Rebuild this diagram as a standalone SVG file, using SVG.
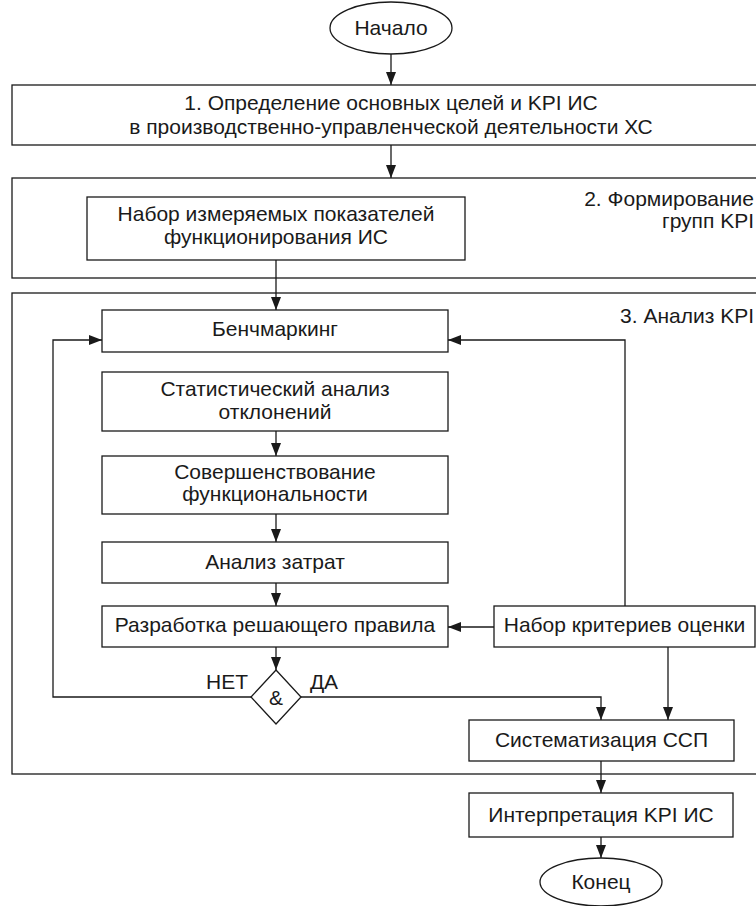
<svg xmlns="http://www.w3.org/2000/svg" width="756" height="906" viewBox="0 0 756 906">
<defs>
<marker id="ah" viewBox="0 0 13 10" refX="13" refY="5" markerWidth="13" markerHeight="10" markerUnits="userSpaceOnUse" orient="auto">
<path d="M0,0 L13,5 L0,10 z" fill="#1a1a1a"/>
</marker>
<style>
.b{fill:#fff;stroke:#1a1a1a;stroke-width:1.3}
.g{fill:none;stroke:#1a1a1a;stroke-width:1.3}
.t{font-family:"Liberation Sans",Arial,sans-serif;font-size:21px;fill:#1a1a1a;text-anchor:middle}
.r{text-anchor:end}
.c{fill:none;stroke:#1a1a1a;stroke-width:1.3}
.a{marker-end:url(#ah)}
</style>
</defs>
<rect width="756" height="906" fill="#fff"/>

<g id="group2"><rect class="g" x="12" y="178" width="760" height="100"/>
<text class="t r" x="754" y="206">2. Формирование</text>
<text class="t r" x="754" y="228">групп KPI</text></g>
<g id="group3"><rect class="g" x="12" y="293" width="760" height="481"/>
<text class="t r" x="754" y="323">3. Анализ KPI</text></g>

<g id="connectors">
<line class="c a" x1="391" y1="54" x2="391" y2="85"/>
<line class="c a" x1="391" y1="145" x2="391" y2="178"/>
<line class="c a" x1="276" y1="260" x2="276" y2="310"/>
<line class="c a" x1="276" y1="431" x2="276" y2="456"/>
<line class="c a" x1="276" y1="514" x2="276" y2="542"/>
<line class="c a" x1="276" y1="583" x2="276" y2="606"/>
<line class="c a" x1="494" y1="627" x2="448" y2="627"/>
<polyline class="c a" points="625,606 625,340 448,340"/>
<line class="c a" x1="276" y1="647" x2="276" y2="670"/>
<polyline class="c a" points="251,697 53,697 53,340 102,340"/>
<polyline class="c a" points="301,697 601,697 601,720"/>
<line class="c a" x1="668" y1="647" x2="668" y2="720"/>
<line class="c a" x1="601" y1="761" x2="601" y2="793"/>
<line class="c a" x1="601" y1="837" x2="601" y2="858"/>
</g>

<g id="start"><ellipse class="b" cx="391" cy="28" rx="61" ry="26"/>
<text class="t" x="391" y="35">Начало</text></g>
<g id="step1"><rect class="b" x="12" y="85" width="760" height="60"/>
<text class="t" x="391" y="110">1. Определение основных целей и KPI ИС</text>
<text class="t" x="391" y="134">в производственно-управленческой деятельности ХС</text></g>
<g id="indicators"><rect class="b" x="87" y="197" width="378" height="63"/>
<text class="t" x="276" y="221">Набор измеряемых показателей</text>
<text class="t" x="276" y="244">функционирования ИС</text></g>
<g id="benchmarking"><rect class="b" x="102" y="310" width="346" height="42"/>
<text class="t" x="275" y="336">Бенчмаркинг</text></g>
<g id="stat"><rect class="b" x="102" y="372" width="346" height="59"/>
<text class="t" x="275" y="396">Статистический анализ</text>
<text class="t" x="275" y="419">отклонений</text></g>
<g id="improve"><rect class="b" x="102" y="456" width="346" height="58"/>
<text class="t" x="275" y="479">Совершенствование</text>
<text class="t" x="275" y="501">функциональности</text></g>
<g id="costs"><rect class="b" x="102" y="542" width="346" height="41"/>
<text class="t" x="275" y="569">Анализ затрат</text></g>
<g id="rule"><rect class="b" x="102" y="606" width="346" height="41"/>
<text class="t" x="275" y="632">Разработка решающего правила</text></g>
<g id="criteria"><rect class="b" x="494" y="606" width="261" height="41"/>
<text class="t" x="624.5" y="632">Набор критериев оценки</text></g>
<g id="and"><polygon class="b" points="276,670 301,697 276,724 251,697"/>
<text class="t" x="276" y="705">&amp;</text>
<text class="t r" x="248" y="689">НЕТ</text>
<text class="t" x="324" y="689">ДА</text></g>
<g id="systematize"><rect class="b" x="469" y="720" width="265" height="41"/>
<text class="t" x="601.5" y="747">Систематизация ССП</text></g>
<g id="interpret"><rect class="b" x="469" y="793" width="264" height="44"/>
<text class="t" x="601" y="822">Интерпретация KPI ИС</text></g>
<g id="end"><ellipse class="b" cx="601" cy="882" rx="61" ry="24"/>
<text class="t" x="601" y="889">Конец</text></g>
</svg>
